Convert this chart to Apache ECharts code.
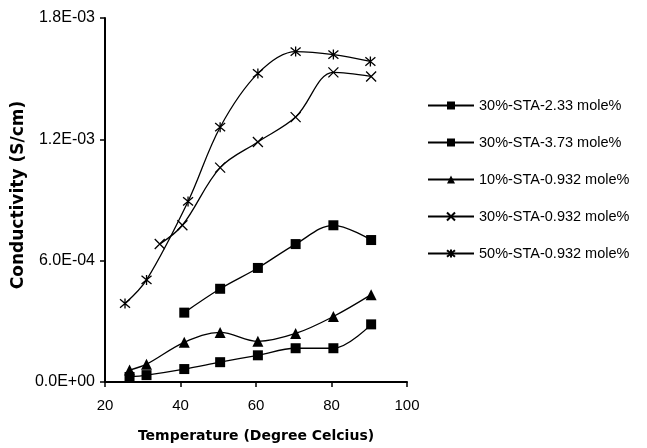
<!DOCTYPE html>
<html>
<head>
<meta charset="utf-8">
<script src="https://cdn.jsdelivr.net/npm/echarts@6/dist/echarts.min.js"></script>
<style>
html,body{margin:0;padding:0;background:#fff;}
#chart{width:647px;height:448px;}
</style>
</head>
<body>
<div id="chart"></div>
<script>
// ---- data ----
var seriesNames = ['30%-STA-2.33 mole%', '30%-STA-3.73 mole%', '10%-STA-0.932 mole%', '30%-STA-0.932 mole%', '50%-STA-0.932 mole%'];

var temp233 = [26.5, 31, 41, 50.5, 60.5, 70.5, 80.5, 90.5];
var cond233 = [2.5e-5, 3.4e-5, 6.4e-5, 9.8e-5, 1.32e-4, 1.67e-4, 1.67e-4, 2.85e-4];

var temp373 = [41, 50.5, 60.5, 70.5, 80.5, 90.5];
var cond373 = [3.43e-4, 4.61e-4, 5.64e-4, 6.82e-4, 7.75e-4, 7.02e-4];

var temp10 = [26.5, 31, 41, 50.5, 60.5, 70.5, 80.5, 90.5];
var cond10 = [5.9e-5, 8.8e-5, 1.96e-4, 2.45e-4, 2.01e-4, 2.4e-4, 3.24e-4, 4.32e-4];

var temp30 = [34.5, 40.5, 50.5, 60.5, 70.5, 80.5, 90.5];
var cond30 = [6.82e-4, 7.75e-4, 1.06e-3, 1.187e-3, 1.31e-3, 1.531e-3, 1.511e-3];

var temp50 = [25.3, 31, 42, 50.5, 60.5, 70.5, 80.5, 90.3];
var cond50 = [3.88e-4, 5.05e-4, 8.93e-4, 1.26e-3, 1.526e-3, 1.634e-3, 1.619e-3, 1.585e-3];

var yTickLabels = ['0.0E+00', '6.0E-04', '1.2E-03', '1.8E-03'];
var xTickLabels = ['20', '40', '60', '80', '100'];

function pairs(xs, ys) { return xs.map(function (x, i) { return [x, ys[i]]; }); }

var xSym = 'path://M0,0L10,10M10,0L0,10';
var starSym = 'path://M0,0L10,10M10,0L0,10M5,-1L5,11';

function mk(name, xs, ys, symbol, size) {
  return {
    name: name, type: 'line', data: pairs(xs, ys), smooth: 0.35,
    symbol: symbol, symbolSize: size, showSymbol: true,
    lineStyle: { color: '#000', width: 1.3 },
    itemStyle: { color: '#000', borderColor: '#000', borderWidth: (symbol.indexOf('path') === 0 ? 1.3 : 0) },
    emphasis: { disabled: true },
    animation: false
  };
}

var chart = echarts.init(document.getElementById('chart'), null, { renderer: 'canvas' });
chart.setOption({
  backgroundColor: '#fff',
  animation: false,
  textStyle: { fontFamily: 'Liberation Sans, Arial, sans-serif' },
  grid: { left: 105, top: 18, right: 240, bottom: 63, containLabel: false },
  legend: {
    orient: 'vertical', left: 427, top: 97, itemGap: 20, padding: 0,
    itemWidth: 46, itemHeight: 10,
    textStyle: { fontSize: 14.5, color: '#000', fontFamily: 'Liberation Sans, Arial, sans-serif', height: 17, lineHeight: 17 },
    data: seriesNames
  },
  xAxis: {
    type: 'value', min: 20, max: 100, interval: 20,
    axisLine: { show: true, lineStyle: { color: '#000', width: 2 } },
    axisTick: { show: true, inside: false, length: 5, lineStyle: { color: '#000', width: 1.5 } },
    splitLine: { show: false },
    axisLabel: { color: '#000', fontSize: 15, margin: 16,
      formatter: function (v) { var i = Math.round((v - 20) / 20); return xTickLabels[i] || ''; } },
    name: 'Temperature (Degree Celcius)', nameLocation: 'middle', nameGap: 47,
    nameTextStyle: { color: '#000', fontSize: 14, fontWeight: 'bold', fontFamily: 'DejaVu Sans, sans-serif' }
  },
  yAxis: {
    type: 'value', min: 0, max: 0.0018, interval: 0.0006,
    axisLine: { show: true, lineStyle: { color: '#000', width: 2 } },
    axisTick: { show: true, inside: false, length: 5, lineStyle: { color: '#000', width: 1.5 } },
    splitLine: { show: false },
    axisLabel: { color: '#000', fontSize: 16, margin: 10,
      formatter: function (v) { var i = Math.round(v / 0.0006); return yTickLabels[i] || ''; } },
    name: 'Conductivity (S/cm)', nameLocation: 'middle', nameGap: 78, nameRotate: 90,
    nameTextStyle: { color: '#000', fontSize: 17, fontWeight: 'bold', fontFamily: 'DejaVu Sans, sans-serif', padding: [0, 0, 0, 10] }
  },
  series: [
    mk(seriesNames[0], temp233, cond233, 'rect', 10),
    mk(seriesNames[1], temp373, cond373, 'rect', 10),
    mk(seriesNames[2], temp10, cond10, 'triangle', 11),
    mk(seriesNames[3], temp30, cond30, xSym, 10),
    mk(seriesNames[4], temp50, cond50, starSym, 10)
  ]
});
</script>
</body>
</html>
